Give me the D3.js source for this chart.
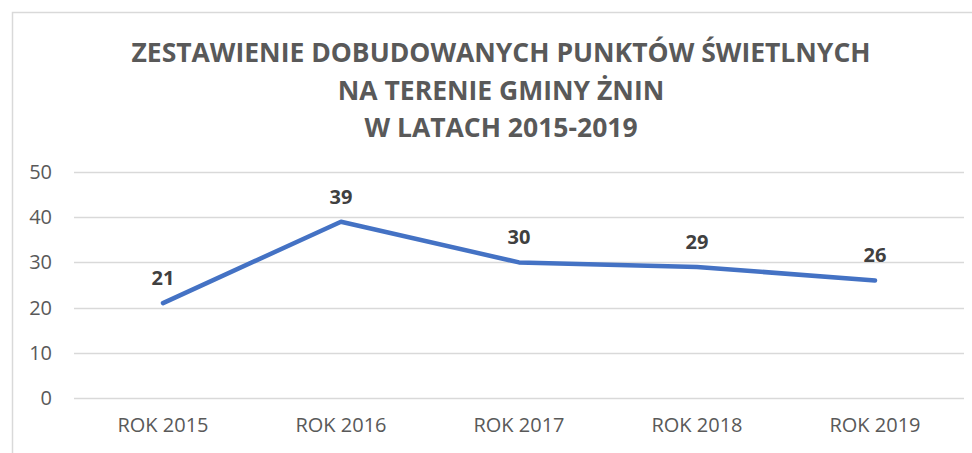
<!DOCTYPE html>
<html>
<head>
<meta charset="utf-8">
<script src="https://cdn.jsdelivr.net/npm/d3@7"></script>
<style>
  html, body { margin: 0; padding: 0; background: #fff; }
  svg { display: block; font-family: "Open Sans", "Noto Sans", sans-serif; }
</style>
</head>
<body>
<svg id="chart" width="972" height="453"></svg>
<script>
const titleLines = ["ZESTAWIENIE DOBUDOWANYCH PUNKTÓW ŚWIETLNYCH", "NA TERENIE GMINY ŻNIN", "W LATACH 2015-2019"];
const years = ["ROK 2015", "ROK 2016", "ROK 2017", "ROK 2018", "ROK 2019"];
const points = [21, 39, 30, 29, 26];
const yTicks = [0, 10, 20, 30, 40, 50];

const svg = d3.select("#chart");
const plot = { left: 74, right: 964, top: 172, bottom: 398 };

// chart frame (cropped by the picture on the right and bottom)
svg.append("rect")
    .attr("x", 12.5).attr("y", 12.5)
    .attr("width", 1000).attr("height", 600)
    .attr("fill", "#fff").attr("stroke", "#d9d9d9").attr("stroke-width", 1.5);

// title
svg.append("text")
    .attr("text-anchor", "middle")
    .attr("font-weight", 700).attr("font-size", 26.5).attr("fill", "#595959")
    .selectAll("tspan").data(titleLines).join("tspan")
    .attr("x", 501).attr("y", (d, i) => 62 + i * 37.5)
    .text(d => d);

const x = d3.scaleBand().domain(years).range([plot.left, plot.right]);
const y = d3.scaleLinear().domain([0, 50]).range([plot.bottom, plot.top]);

// gridlines
svg.append("g")
    .selectAll("line").data(yTicks).join("line")
    .attr("x1", plot.left).attr("x2", plot.right)
    .attr("y1", d => Math.round(y(d)) + 0.5).attr("y2", d => Math.round(y(d)) + 0.5)
    .attr("stroke", "#d9d9d9").attr("stroke-width", 1.5);

// y axis labels
const yAxis = svg.append("g")
    .attr("transform", `translate(${plot.left},0)`)
    .call(d3.axisLeft(y).tickValues(yTicks).tickSize(0).tickPadding(22));
yAxis.select(".domain").remove();
yAxis.selectAll("text").attr("font-size", 20).attr("fill", "#595959")
    .attr("font-family", "'Open Sans', sans-serif");

// x axis labels
const xAxis = svg.append("g")
    .attr("transform", `translate(0,${plot.bottom})`)
    .call(d3.axisBottom(x).tickSize(0).tickPadding(20));
xAxis.select(".domain").remove();
xAxis.selectAll("text").attr("font-size", 20).attr("fill", "#595959")
    .attr("font-family", "'Open Sans', sans-serif");

// line
const cx = d => x(d) + x.bandwidth() / 2;
const line = d3.line().x((d, i) => cx(years[i])).y(d => y(d));
svg.append("path")
    .datum(points)
    .attr("d", line)
    .attr("fill", "none")
    .attr("stroke", "#4472c4").attr("stroke-width", 4.5)
    .attr("stroke-linecap", "round").attr("stroke-linejoin", "round");

// data labels
svg.append("g")
    .selectAll("text").data(points).join("text")
    .attr("x", (d, i) => cx(years[i]))
    .attr("y", d => y(d) - 18)
    .attr("text-anchor", "middle")
    .attr("font-size", 20).attr("font-weight", 700).attr("fill", "#404040")
    .text(d => d);
</script>
</body>
</html>
